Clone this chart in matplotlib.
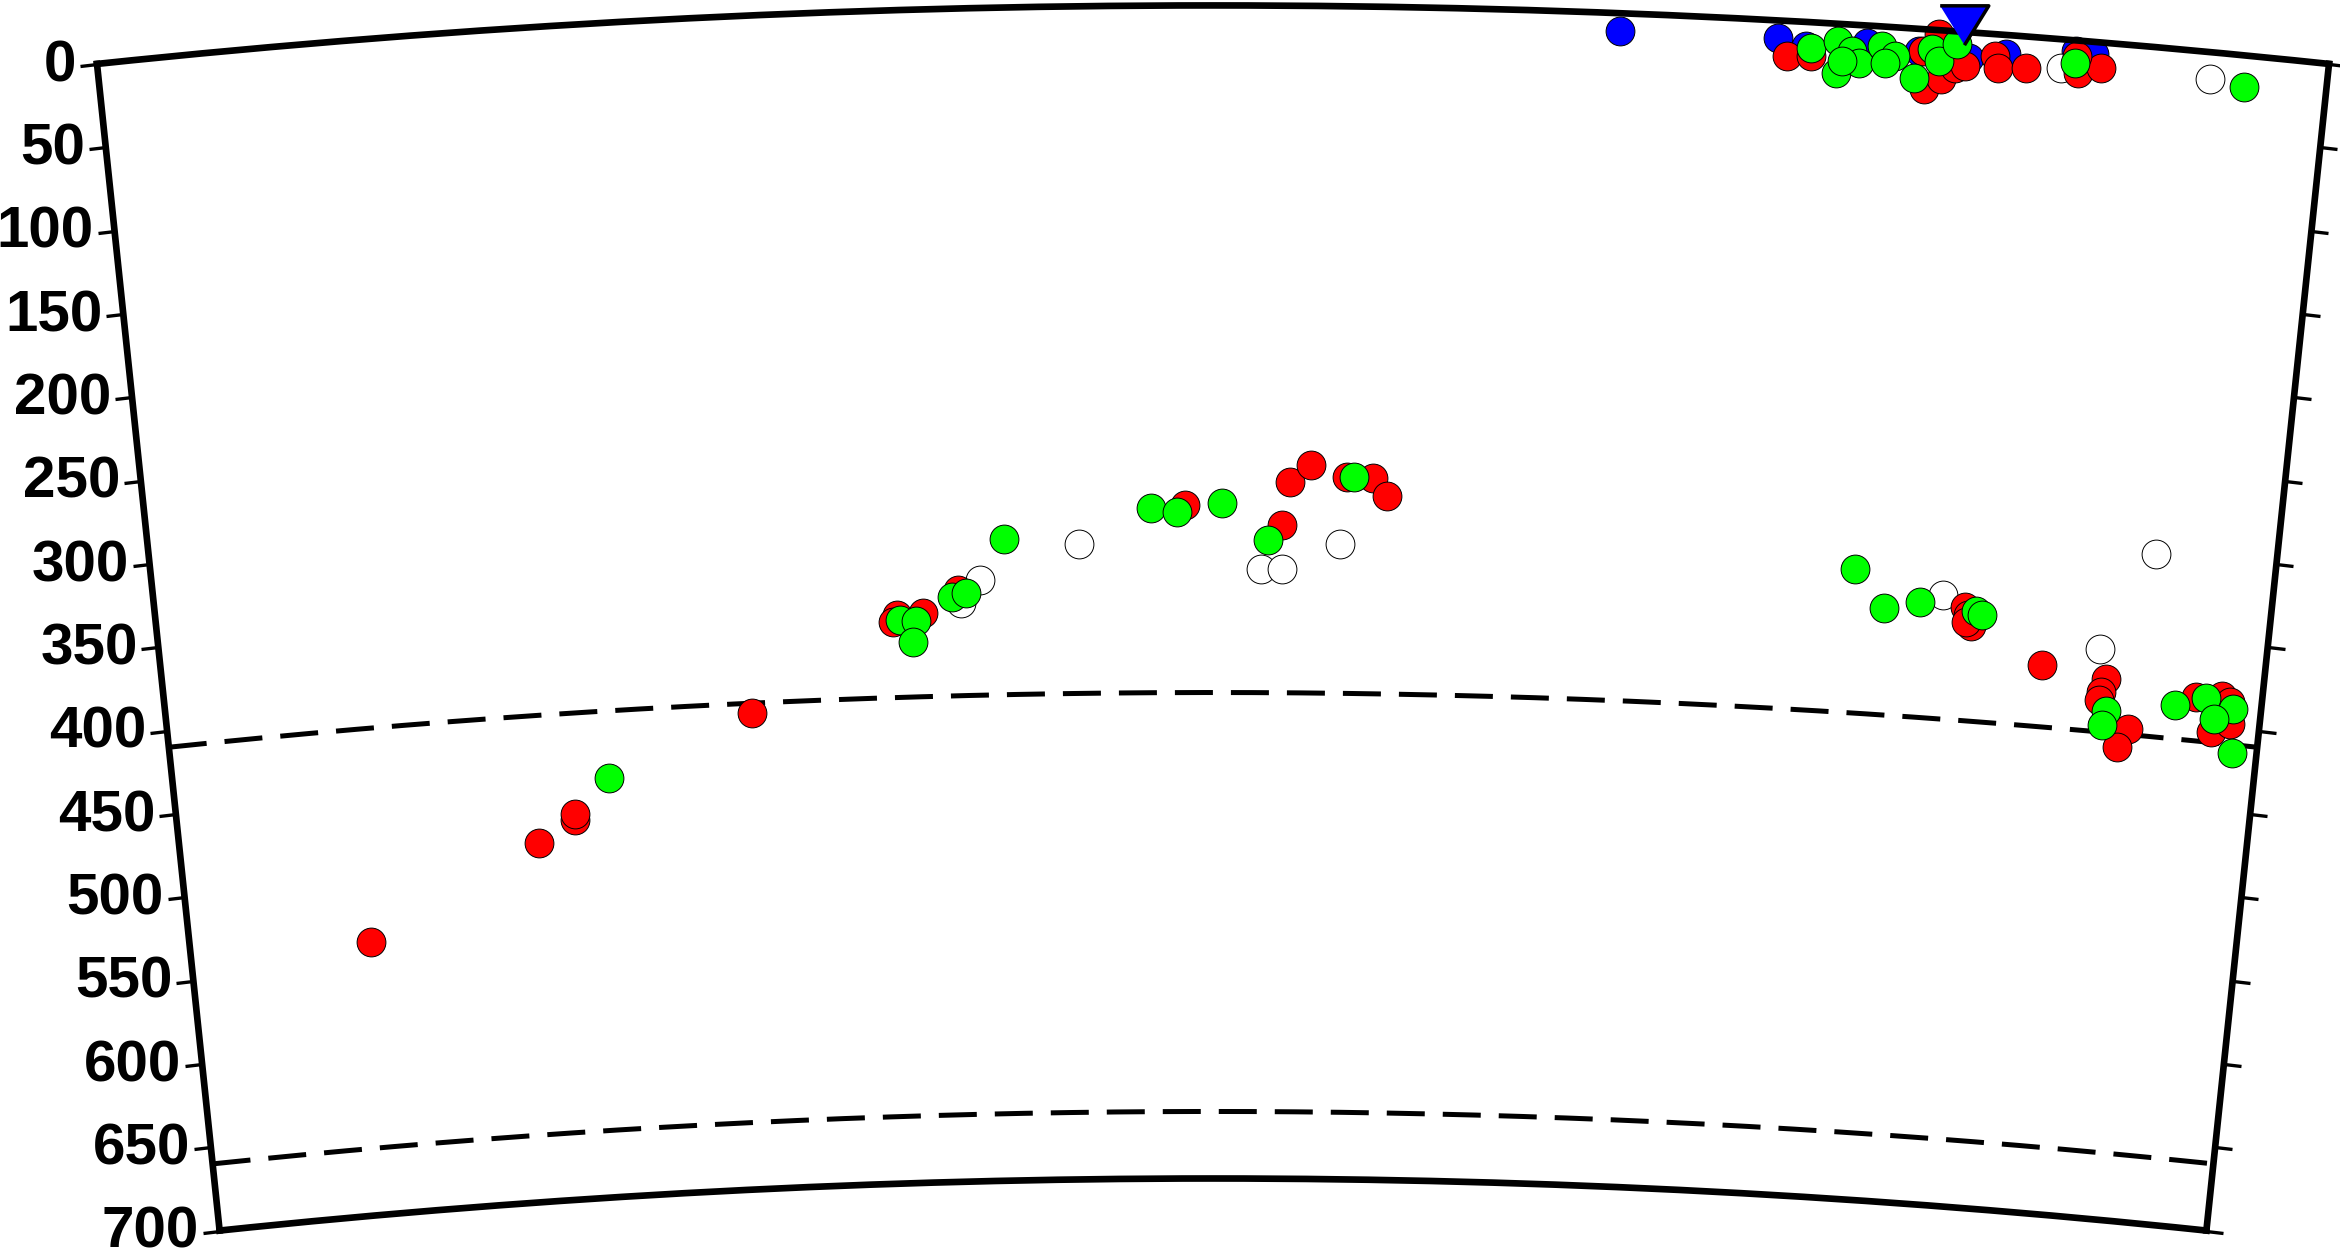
import numpy as np
import matplotlib
matplotlib.use("Agg")
import matplotlib.pyplot as plt

plt.rcParams['font.family'] = ['Liberation Sans', 'DejaVu Sans']
plt.rcParams['font.weight'] = 'bold'

EARTH_R = 6371.0
MAX_DEPTH = 700.0
HALF_SPAN = 6.0  # degrees either side of profile centre

depth_ticks = list(range(0, 701, 50))
discontinuities = [410, 660]

# distance along profile (deg, 0..12) and depth (km)
blue_dist = [8.19, 9.04, 9.19, 9.52, 9.80, 10.07, 10.27, 10.64, 10.74]
blue_depth = [10.8, 10.7, 14.5, 10.7, 13.4, 15.5, 11.6, 6.5, 7.3]

white_dist = [4.57, 4.68, 5.24, 6.27, 6.39, 6.72, 10.14, 11.32, 11.05, 10.57, 11.37]
white_depth = [355, 341, 321, 336, 336, 321, 336, 301, 361, 17, 16]

red_dist = [1.06, 2.08, 2.30, 2.30, 3.35, 4.20, 4.35, 4.18, 4.55, 5.84,
            6.43, 6.55, 6.39, 6.75, 6.90, 6.98,
            10.27, 10.29, 10.31, 10.28, 10.73, 11.10, 11.08, 11.07, 11.25, 11.20,
            11.62, 11.77, 11.82, 11.73, 11.83,
            9.09, 9.22, 9.90, 9.82, 9.84, 9.93, 10.00, 10.21, 10.23, 10.38,
            10.66, 10.78, 10.65, 10.05]
red_depth = [537, 486, 474, 470, 416, 361, 360, 365, 347, 298,
             284, 274, 310, 281, 281, 292,
             342, 347, 353, 351, 373, 378, 386, 391, 407, 418,
             384, 382, 385, 404, 398,
             21.1, 20.3, 2.5, 13.3, 35.8, 29.1, 22.0, 13.2, 20.2, 18.9,
             19.4, 15.4, 9.5, 20.5]

green_dist = [2.51, 4.22, 4.31, 4.29, 4.52, 4.60, 4.82, 5.65, 5.80, 6.05, 6.31, 6.79,
              9.63, 9.81, 10.01, 10.33, 10.37, 11.12, 11.10,
              11.51, 11.68, 11.84, 11.74, 11.86,
              9.22, 9.36, 9.36, 9.44, 9.48, 9.39, 9.60, 9.67, 9.62, 9.78,
              9.87, 9.91, 10.00, 10.64, 11.56]
green_depth = [450, 364, 365, 377, 351, 349, 317, 300, 302, 297, 319, 281,
               324, 346, 341, 344, 346, 397, 406,
               390, 384, 389, 396, 415,
               15.5, 10.5, 29.6, 16.0, 22.8, 22.3, 11.9, 17.4, 21.9, 29.7,
               11.7, 18.6, 7.7, 13.7, 18.9]

station_dist = [10.03]
station_depth = [-4.0]


def to_theta(d):
    return np.deg2rad(np.asarray(d, dtype=float) - HALF_SPAN)


def to_r(z):
    return EARTH_R - np.asarray(z, dtype=float)


fig = plt.figure(figsize=(23.4, 12.59), dpi=100)
W, H = 2340.0, 1259.0
side = 2232.0
left_px = 97.0
center_y_from_bottom = H - 618.0
ax = fig.add_axes([left_px / W, (center_y_from_bottom - side / 2) / H,
                   side / W, side / H], projection='polar')

ax.set_theta_zero_location('N')
ax.set_theta_direction(-1)
ax.set_thetamin(-HALF_SPAN)
ax.set_thetamax(HALF_SPAN)
ax.set_rorigin(0)
ax.set_ylim(EARTH_R - MAX_DEPTH, EARTH_R)
ax.grid(False)
ax.set_xticks([])

ax.set_yticks(to_r(depth_ticks), labels=[str(d) for d in depth_ticks],
              fontweight='bold', fontfamily=['Liberation Sans', 'DejaVu Sans'])
ax.tick_params(axis='y', direction='out', length=12, width=2.4, pad=3,
               labelsize=42, left=True, right=True, labelleft=True,
               labelright=False, labelrotation=0)

for name in ['polar', 'inner', 'start', 'end']:
    if name in ax.spines:
        ax.spines[name].set_linewidth(4.8)
        ax.spines[name].set_zorder(4)

th = np.linspace(-np.deg2rad(HALF_SPAN), np.deg2rad(HALF_SPAN), 400)
for z in discontinuities:
    ln, = ax.plot(th, np.full_like(th, EARTH_R - z), color='black', lw=3.6,
                  zorder=2, solid_capstyle='butt')
    ln.set_dashes([7.6, 3.6])
    ln.set_dash_capstyle('butt')

kw = dict(s=430, edgecolors='black', linewidths=0.7, zorder=3, clip_on=False)
ax.scatter(to_theta(blue_dist), to_r(blue_depth), c='#0000ff', **kw)
ax.scatter(to_theta(white_dist), to_r(white_depth), c='#ffffff', **kw)
ax.scatter(to_theta(red_dist), to_r(red_depth), c='#ff0000', **kw)
ax.scatter(to_theta(green_dist), to_r(green_depth), c='#00ff00', **kw)

tri = [(-1, 0.81), (1, 0.81), (0, -0.81)]
ax.plot(to_theta(station_dist), to_r(station_depth), linestyle='none',
        marker=tri, markersize=35, markerfacecolor='#0000ff',
        markeredgecolor='black', markeredgewidth=2.5, zorder=6, clip_on=False)

fig.savefig('out.png', dpi=100)
